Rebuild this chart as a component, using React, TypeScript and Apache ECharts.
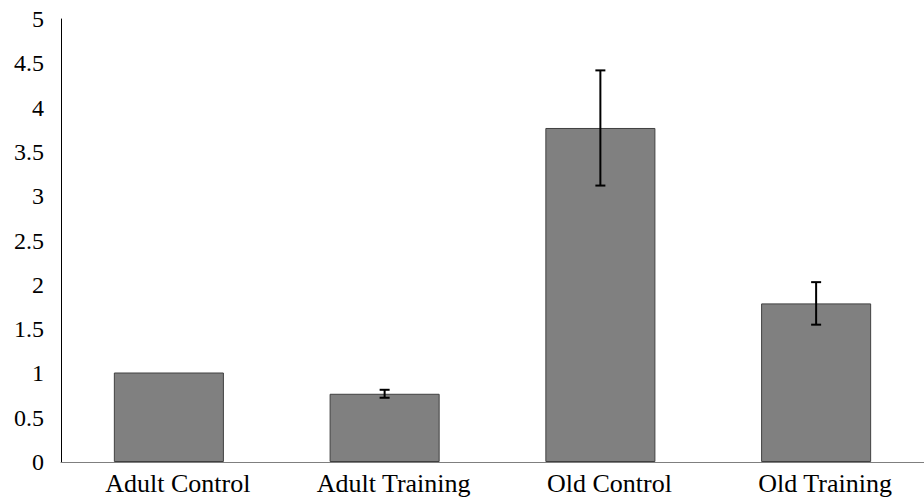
import React, { useEffect, useRef } from "react";
import * as echarts from "echarts";

const categories = ["Adult Control", "Adult Training", "Old Control", "Old Training"];
const means = [1.01, 0.77, 3.77, 1.79];
const errors = [0, 0.045, 0.65, 0.24];
const yTicks = [0, 0.5, 1, 1.5, 2, 2.5, 3, 3.5, 4, 4.5, 5];

export default function App() {
  const ref = useRef<HTMLDivElement>(null);
  useEffect(() => {
    if (!ref.current) return;
    const chart = echarts.init(ref.current, null, { renderer: "svg" });
    const errData = means.map((m, i) => [i, m - errors[i], m + errors[i]]);
    chart.setOption({
      animation: false,
      grid: { left: 61, right: -12, top: 19, bottom: 35, containLabel: false },
      xAxis: {
        type: "category",
        data: categories,
        axisLine: { lineStyle: { color: "#7f7f7f", width: 1 } },
        axisTick: { show: false },
        axisLabel: {
          color: "#000",
          fontFamily: "Liberation Serif",
          fontSize: 26,
          margin: 8,
          interval: 0,
          padding: [0, 0, 0, 18],
        },
      },
      yAxis: {
        type: "value",
        min: 0,
        max: 5,
        interval: 0.5,
        axisLine: { show: true, lineStyle: { color: "#000", width: 1 } },
        axisTick: { show: false },
        splitLine: { show: false },
        axisLabel: {
          color: "#000",
          fontFamily: "Liberation Serif",
          fontSize: 24,
          margin: 17,
          formatter: (v: number) => (yTicks.includes(v) ? String(v) : ""),
        },
      },
      series: [
        {
          type: "bar",
          data: means,
          barWidth: "51%",
          itemStyle: { color: "#808080", borderColor: "#404040", borderWidth: 1 },
        },
        {
          type: "custom",
          data: errData,
          z: 10,
          renderItem: (params: any, api: any) => {
            const i = api.value(0);
            const lo = api.coord([i, api.value(1)]);
            const hi = api.coord([i, api.value(2)]);
            if (Math.abs(hi[1] - lo[1]) < 0.5) return { type: "group", children: [] };
            const x = lo[0];
            const cap = 5;
            const style = { stroke: "#000", lineWidth: 2 };
            return {
              type: "group",
              children: [
                { type: "line", shape: { x1: x, y1: lo[1], x2: x, y2: hi[1] }, style },
                { type: "line", shape: { x1: x - cap, y1: lo[1], x2: x + cap, y2: lo[1] }, style },
                { type: "line", shape: { x1: x - cap, y1: hi[1], x2: x + cap, y2: hi[1] }, style },
              ],
            };
          },
        },
      ],
    });
    return () => chart.dispose();
  }, []);
  return <div ref={ref} style={{ width: 924, height: 497, position: "absolute", left: 0, top: 0 }} />;
}
